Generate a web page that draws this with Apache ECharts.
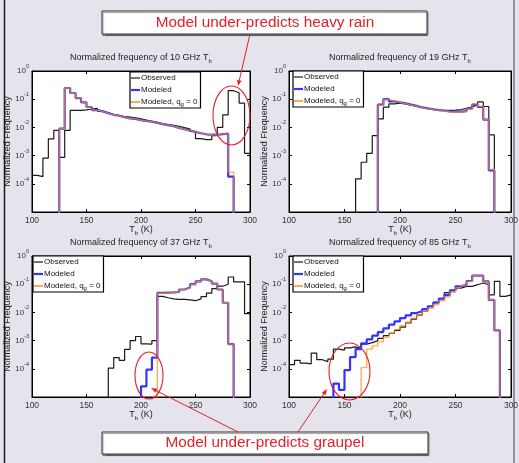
<!DOCTYPE html>
<html>
<head>
<meta charset="utf-8">
<script src="https://cdn.jsdelivr.net/npm/echarts@6/dist/echarts.min.js"></script>
<style>
html,body{margin:0;padding:0;background:#e5e4ed;}
#c{width:519px;height:463px;}
</style>
</head>
<body>
<div id="c"></div>
<script>
// ---------- DATA (5 K bins, left edges 100..295) ----------
const binLefts = [100,105,110,115,120,125,130,135,140,145,150,155,160,165,170,175,180,185,190,195,
                  200,205,210,215,220,225,230,235,240,245,250,255,260,265,270,275,280,285,290,295];
const binRight = 300;
const xTickLabels = [100,150,200,250,300];
const yDecadeExponents = [0,-1,-2,-3,-4];
const panelFreqs = ['10','19','37','85'];
const seriesNames = ['Observed','Modeled','Modeled, qg = 0'];

// 10 GHz
const obs10 = [2.0e-4,1.8e-4,8.2e-4,3.9e-3,7.9e-3,8.7e-4,7.9e-3,0.040,
               0.040,0.042,0.045,0.047,0.038,0.033,0.029,0.026,
               0.024,0.023,0.022,0.020,0.018,0.0165,0.015,0.0135,
               0.0125,0.0118,0.011,0.0098,0.0088,0.0072,0.0040,0.0037,
               0.0037,0.0051,0.010,0.028,0.20,0.17,0.073,0.0012];
const mod10 = [0,0,0,0,0,9e-3,0.25,0.166,
               0.11,0.077,0.053,0.041,0.037,0.032,0.028,0.026,
               0.023,0.021,0.020,0.018,0.017,0.016,0.0144,0.013,
               0.012,0.011,0.0095,0.0086,0.0077,0.0069,0.0062,0.0057,
               0.0055,0.0055,0.0058,0.006,1.8e-4,0,0,0];
const mod10g0 = [0,0,0,0,0,9e-3,0.25,0.166,
               0.11,0.077,0.053,0.041,0.037,0.032,0.028,0.026,
               0.023,0.021,0.020,0.018,0.017,0.016,0.0144,0.013,
               0.012,0.011,0.0095,0.0086,0.0077,0.0069,0.0062,0.0057,
               0.0055,0.0055,0.0058,0.006,2.6e-4,0,0,0];
// 19 GHz
const obs19 = [0,0,0,0,0,0,0,0,
               0,0,0,0,1.5e-4,5.8e-4,1.2e-3,5.1e-3,
               0.020,0.052,0.068,0.072,0.068,0.062,0.056,0.050,
               0.046,0.043,0.041,0.040,0.040,0.041,0.043,0.047,
               0.053,0.062,0.080,0.055,5.4e-3,0,0,0];
const mod19 = [0,0,0,0,0,0,0,0,
               0,0,0,0,0,0,0,0,
               0.064,0.10,0.084,0.077,0.071,0.064,0.058,0.051,
               0.047,0.044,0.041,0.039,0.037,0.036,0.036,0.038,
               0.046,0.064,0.053,0.019,3.0e-4,0,0,0];
const mod19g0 = [0,0,0,0,0,0,0,0,
               0,0,0,0,0,0,0,0,
               0.062,0.098,0.086,0.078,0.070,0.063,0.057,0.050,
               0.046,0.043,0.040,0.038,0.036,0.035,0.035,0.037,
               0.045,0.068,0.056,0.019,3.2e-4,0,0,0];
// 37 GHz
const obs37 = [0,0,0,0,0,0,0,0,
               0,0,0,0,0,0,1.05e-4,2.5e-4,
               2.0e-4,4.9e-4,1.0e-3,1.4e-3,7.6e-4,7.5e-4,1.0e-3,0.037,
               0.033,0.030,0.029,0.029,0.028,0.026,0.030,0.036,
               0.048,0.070,0.085,0.10,0.18,0.12,0.12,9e-3];
const mod37 = [0,0,0,0,0,0,0,0,
               0,0,0,0,0,0,0,0,
               0,0,0,0,2.4e-5,9.3e-5,2.5e-4,0.049,
               0.050,0.051,0.053,0.065,0.076,0.10,0.125,0.148,
               0.128,0.105,0.065,0.022,7.5e-4,0,0,0];
const mod37g0 = [0,0,0,0,0,0,0,0,
               0,0,0,0,0,0,0,0,
               0,0,0,0,0,0,0,0.048,
               0.050,0.051,0.053,0.064,0.075,0.098,0.123,0.146,
               0.128,0.105,0.066,0.022,7.5e-4,0,0,0];
// 85 GHz
const obs85 = [1.4e-4,2.0e-4,1.6e-4,1.5e-4,3.6e-4,2.1e-4,1.8e-4,2.2e-4,
               5.0e-4,4.6e-4,5.5e-4,6.0e-4,5.3e-4,7.5e-4,8.5e-4,1.0e-3,
               1.2e-3,1.5e-3,1.8e-3,2.3e-3,3.0e-3,4.2e-3,5.8e-3,8.0e-3,
               0.011,0.016,0.023,0.031,0.050,0.061,0.073,0.084,
               0.084,0.096,0.11,0.096,0.042,0.126,0.037,0.042];
const mod85 = [0,0,0,0,0,0,0,0,
               3e-5,1.8e-5,9e-5,2.6e-4,5e-4,8e-4,1.1e-3,1.5e-3,
               2.0e-3,2.7e-3,3.7e-3,4.8e-3,6.3e-3,7.8e-3,9.5e-3,0.011,
               0.013,0.0165,0.022,0.031,0.042,0.060,0.084,0.096,
               0.13,0.20,0.20,0.125,0.028,2.3e-3,0,0];
const mod85g0 = [0,0,0,0,0,0,0,0,
               0,0,0,0,0,1.1e-4,5e-4,6.5e-4,
               9e-4,1.3e-3,1.8e-3,2.5e-3,3.4e-3,4.6e-3,6.2e-3,8e-3,
               0.011,0.014,0.019,0.026,0.036,0.052,0.075,0.09,
               0.125,0.20,0.20,0.125,0.028,2.3e-3,0,0];

const panelData = [
  [obs10, mod10, mod10g0],
  [obs19, mod19, mod19g0],
  [obs37, mod37, mod37g0],
  [obs85, mod85, mod85g0]
];

// ---------- LAYOUT / STYLE ----------
const FONT = 'Liberation Sans';
const grids = [[32,71,218,141],[289,71,222,141],[32,256,218,141],[289,256,222,141]];
const legendPos = [[130,72],[293,71],[33,256],[293,256]];
const lineColors = ['#1a1a1a','#3434ff','#ff8c1a'];
const lineWidths = [1.2,2.2,1.4];
const lineOpacity = [1,1,0.72];
const TINY = 1e-9;

function stepData(vals){
  const pts = vals.map((v,i)=>[binLefts[i], v>0 ? v : TINY]);
  const last = vals[vals.length-1];
  pts.push([binRight, last>0 ? last : TINY]);
  return pts;
}

const xAxes = [], yAxes = [], series = [], legends = [], titles = [];
grids.forEach((g,i)=>{
  titles.push({
    text:'Normalized frequency of '+panelFreqs[i]+' GHz T{b|b}',
    left:g[0]+g[2]/2, top:g[1]-19, textAlign:'center', padding:0,
    textStyle:{fontSize:9, fontWeight:'normal', color:'#222', fontFamily:FONT, lineHeight:12,
      rich:{b:{fontSize:6, lineHeight:6, verticalAlign:'bottom', fontFamily:FONT, color:'#222'}}}
  });
  xAxes.push({
    gridIndex:i, type:'value', min:100, max:300, interval:50, position:'bottom',
    axisLine:{lineStyle:{color:'#000', width:1}},
    axisTick:{inside:true, length:3, lineStyle:{color:'#000'}},
    axisLabel:{fontSize:8.5, color:'#333', margin:4, fontFamily:FONT,
      formatter:v=> xTickLabels.indexOf(v)>=0 ? String(v) : ''},
    splitLine:{show:false},
    name:'T{b|b} (K)', nameLocation:'middle', nameGap:12, nameMoveOverlap:false,
    nameTextStyle:{fontSize:9, color:'#222', fontFamily:FONT, lineHeight:12,
      rich:{b:{fontSize:6, lineHeight:6, verticalAlign:'bottom', fontFamily:FONT, color:'#222'}}}
  });
  xAxes.push({
    gridIndex:i, type:'value', min:100, max:300, interval:50, position:'top',
    axisLine:{lineStyle:{color:'#000', width:1}},
    axisTick:{inside:true, length:3, lineStyle:{color:'#000'}},
    axisLabel:{show:false}, splitLine:{show:false}
  });
  yAxes.push({
    gridIndex:i, type:'log', logBase:10, min:1e-5, max:1, position:'left',
    axisLine:{lineStyle:{color:'#000', width:1}},
    axisTick:{inside:true, length:3, lineStyle:{color:'#000'}},
    axisLabel:{fontSize:8, color:'#333', margin:3, fontFamily:FONT, lineHeight:15,
      formatter:v=>{ const e=Math.round(Math.log10(v)); return yDecadeExponents.indexOf(e)>=0 ? '10{s|'+e+'}' : ''; },
      rich:{s:{fontSize:5.5, lineHeight:7, verticalAlign:'top', fontFamily:FONT, color:'#333'}}},
    splitLine:{show:false},
    name:'Normalized Frequency', nameLocation:'middle', nameGap:20, nameMoveOverlap:false,
    nameTextStyle:{fontSize:9, color:'#222', fontFamily:FONT}
  });
  yAxes.push({
    gridIndex:i, type:'log', logBase:10, min:1e-5, max:1, position:'right',
    axisLine:{lineStyle:{color:'#000', width:1}},
    axisTick:{inside:true, length:3, lineStyle:{color:'#000'}},
    axisLabel:{show:false}, splitLine:{show:false}
  });
  panelData[i].forEach((vals,k)=>{
    series.push({
      type:'line', name:seriesNames[k], xAxisIndex:2*i, yAxisIndex:2*i,
      step:'end', symbol:'none', showSymbol:false, clip:true, z:2+k,
      data:stepData(vals),
      itemStyle:{color:lineColors[k]},
      lineStyle:{color:lineColors[k], width:lineWidths[k], opacity:lineOpacity[k]},
      emphasis:{disabled:true}
    });
  });
  legends.push({
    orient:'vertical', left:legendPos[i][0], top:legendPos[i][1],
    itemWidth:9, itemHeight:8, itemGap:2, padding:[1,3,1,1],
    backgroundColor:'#fff', borderColor:'#000', borderWidth:1.2, borderRadius:0,
    selectedMode:false,
    data:[
      {name:seriesNames[0], icon:'path://M0,0H9V1.2H0Z'},
      {name:seriesNames[1], icon:'path://M0,0H9V2.2H0Z'},
      {name:seriesNames[2], icon:'path://M0,0H9V1.5H0Z'}
    ],
    formatter:n=> n===seriesNames[2] ? 'Modeled, q{b|g} = 0' : n,
    textStyle:{fontSize:8, color:'#111', fontFamily:FONT, lineHeight:10, padding:[0,0,0,-4],
      rich:{b:{fontSize:6, lineHeight:6, verticalAlign:'bottom', fontFamily:FONT, color:'#111'}}}
  });
});

// ---------- ANNOTATIONS ----------
const RED = '#e3202a';
function arrow(x1,y1,x2,y2){
  const dx=x2-x1, dy=y2-y1, L=Math.hypot(dx,dy), ux=dx/L, uy=dy/L, px=-uy, py=ux;
  const hl=6, hw=2.3, bx=x2-ux*hl, by=y2-uy*hl;
  return [
    {type:'line', z:100, shape:{x1:x1,y1:y1,x2:bx,y2:by}, style:{stroke:RED, lineWidth:1}},
    {type:'polygon', z:100, shape:{points:[[x2,y2],[bx+px*hw,by+py*hw],[bx-px*hw,by-py*hw]]}, style:{fill:RED}}
  ];
}
const graphics = [
  {type:'line', z:100, shape:{x1:4.5,y1:0,x2:4.5,y2:463}, style:{stroke:'#1a1a1a', lineWidth:1.5}},
  {type:'line', z:100, shape:{x1:514,y1:0,x2:514,y2:463}, style:{stroke:'#444', lineWidth:1}},
  {type:'rect', z:100, shape:{x:102,y:11,width:325,height:23},
    style:{fill:'#fff', stroke:'#333', lineWidth:1, shadowColor:'rgba(0,0,0,0.4)', shadowOffsetX:1, shadowOffsetY:1.5, shadowBlur:1}},
  {type:'text', z:101, x:265, y:23, style:{text:'Model under-predicts heavy rain', fill:RED, fontSize:15.3, fontFamily:FONT, align:'center', verticalAlign:'middle'}},
  {type:'rect', z:100, shape:{x:102,y:432,width:326,height:22},
    style:{fill:'#fff', stroke:'#333', lineWidth:1, shadowColor:'rgba(0,0,0,0.4)', shadowOffsetX:1, shadowOffsetY:1.5, shadowBlur:1}},
  {type:'text', z:101, x:265, y:443, style:{text:'Model under-predicts graupel', fill:RED, fontSize:15.3, fontFamily:FONT, align:'center', verticalAlign:'middle'}},
  {type:'ellipse', z:100, shape:{cx:231.5, cy:115.5, rx:18.5, ry:29.5}, style:{fill:'none', stroke:RED, lineWidth:1.1}},
  {type:'ellipse', z:100, shape:{cx:149, cy:375.5, rx:14, ry:23.5}, style:{fill:'none', stroke:RED, lineWidth:1.1}},
  {type:'ellipse', z:100, shape:{cx:349.5, cy:371.5, rx:20.5, ry:28.5}, style:{fill:'none', stroke:RED, lineWidth:1.1}}
].concat(arrow(250,34,238,86), arrow(238,432,151,388), arrow(298,432,327,389));

const chart = echarts.init(document.getElementById('c'), null, {renderer:'canvas', width:519, height:463});
chart.setOption({
  animation:false,
  backgroundColor:'#e5e4ed',
  textStyle:{fontFamily:FONT},
  title:titles,
  grid:grids.map(g=>({left:g[0], top:g[1], width:g[2], height:g[3], show:true, backgroundColor:'#fff',
    borderColor:'#000', borderWidth:1, containLabel:false, outerBoundsMode:'none'})),
  xAxis:xAxes,
  yAxis:yAxes,
  legend:legends,
  series:series,
  graphic:graphics
});
</script>
</body>
</html>
